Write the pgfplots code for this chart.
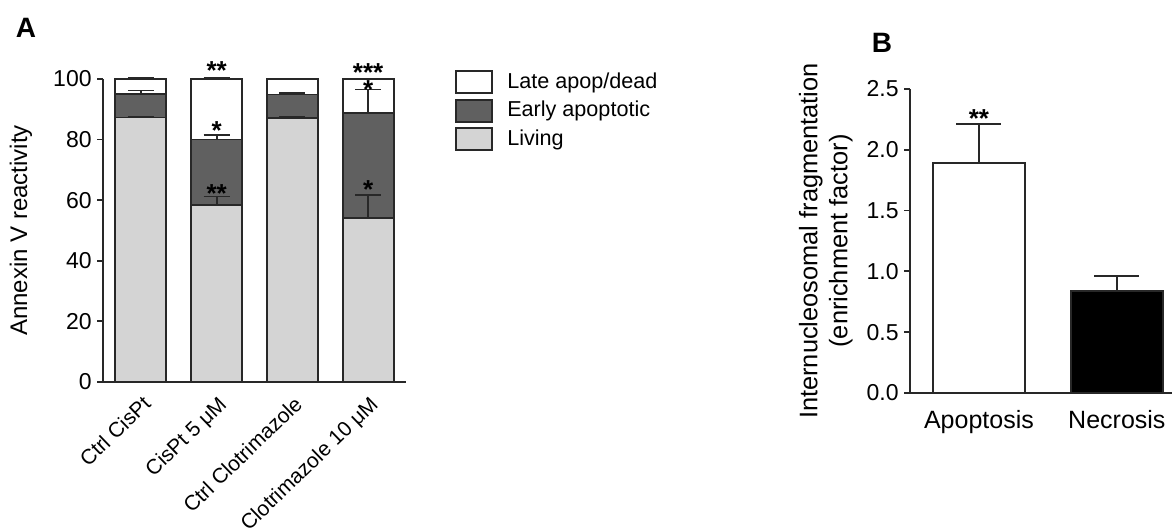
\documentclass[border=0pt]{standalone}
\usepackage{pgfplots}
\pgfplotsset{compat=1.18}
\usepackage{fontspec}
\setmainfont{Liberation Sans}
\definecolor{living}{RGB}{212,212,212}
\definecolor{early}{RGB}{96,96,96}
\definecolor{edge}{RGB}{40,40,40}
\tikzset{sigstar/.style={font=\fontsize{13}{15}\selectfont\bfseries, anchor=base, inner sep=0pt}}
\begin{document}
\begin{tikzpicture}
\path[use as bounding box] (0,0) rectangle (587pt,-264pt);
% Panel letters
\node[font=\fontsize{14}{16}\selectfont\bfseries] at (13pt,-13.75pt) {A};
\node[font=\fontsize{14}{16}\selectfont\bfseries] at (441pt,-21.5pt) {B};

% ---------------- Panel A ----------------
\begin{axis}[
  at={(51.5pt,-191pt)}, anchor=south west,
  scale only axis, width=151.5pt, height=151.5pt,
  ybar stacked, bar width=25.5pt,
  xmin=-0.5, xmax=3.5, ymin=0, ymax=100,
  axis lines*=left, axis line style={line width=0.9pt, edge, -},
  every tick/.style={line width=0.9pt, edge},
  xtick={0,1,2,3},
  xticklabels={Ctrl CisPt, CisPt 5 μM, Ctrl Clotrimazole, Clotrimazole 10 μM},
  x tick style={draw=none},
  xticklabel style={rotate=44, anchor=north east, inner sep=0pt, xshift=-2pt, yshift=-2.5pt, font=\fontsize{10.5}{12}\selectfont},
  ytick={0,20,40,60,80,100},
  tick align=outside, major tick length=3pt,
  /pgf/number format/assume math mode=true,
  yticklabel style={font=\fontsize{11.5}{13}\selectfont, inner sep=0pt, xshift=-2.5pt},
  ylabel={Annexin V reactivity},
  ylabel style={at={(axis description cs:-0.271,0.5)}, anchor=center, font=\fontsize{12}{14}\selectfont},
  reverse legend,
  legend style={at={(axis description cs:1.162,1.03)}, anchor=north west, draw=none, fill=none,
    font=\fontsize{10.8}{13}\selectfont, inner sep=0pt, row sep=2.3pt,
    nodes={inner sep=1pt}, /tikz/every odd column/.append style={column sep=6pt}},
  legend cell align=left,
  legend image code/.code={\draw[#1, line width=0.9pt] (0pt,-5.5pt) rectangle (18pt,5.5pt);},
]
\addplot[fill=living, draw=edge, line width=0.9pt] coordinates {(0,87.3) (1,58.5) (2,87.1) (3,54.2)};
\addlegendentry{Living}
\addplot[fill=early, draw=edge, line width=0.9pt] coordinates {(0,7.8) (1,21.5) (2,7.8) (3,34.5)};
\addlegendentry{Early apoptotic}
\addplot[fill=white, draw=edge, line width=0.9pt] coordinates {(0,4.9) (1,20.0) (2,5.1) (3,11.3)};
\addlegendentry{Late apop/dead}
\end{axis}

% overlay axis for error bars and significance marks
\begin{axis}[
  at={(51.5pt,-191pt)}, anchor=south west,
  scale only axis, width=151.5pt, height=151.5pt,
  xmin=-0.5, xmax=3.5, ymin=0, ymax=100,
  hide axis, clip=false,
]
\addplot[draw=none, mark=none, forget plot,
  error bars/.cd, y dir=plus, y explicit,
  error bar style={draw=edge, line width=0.9pt, solid},
  error mark options={draw=edge, rotate=90, mark size=6.5pt, line width=0.9pt}]
  coordinates {(0,87.3) +- (0,0.3) (1,58.5) +- (0,2.7) (2,87.1) +- (0,0.3) (3,54.2) +- (0,7.5)};
\addplot[draw=none, mark=none, forget plot,
  error bars/.cd, y dir=plus, y explicit,
  error bar style={draw=edge, line width=0.9pt, solid},
  error mark options={draw=edge, rotate=90, mark size=6.5pt, line width=0.9pt}]
  coordinates {(0,95.1) +- (0,1.1) (1,80.0) +- (0,1.5) (2,94.9) +- (0,0.5) (3,88.7) +- (0,7.8)};
\addplot[draw=none, mark=none, forget plot,
  error bars/.cd, y dir=plus, y explicit,
  error bar style={draw=edge, line width=0.9pt, solid},
  error mark options={draw=edge, rotate=90, mark size=6.5pt, line width=0.9pt}]
  coordinates {(0,100) +- (0,0.2) (1,100) +- (0,0.3)};
\node[sigstar] at (axis cs:1,99.7) {**};
\node[sigstar] at (axis cs:1,80.0) {*};
\node[sigstar] at (axis cs:1,59.2) {**};
\node[sigstar] at (axis cs:3,99.3) {***};
\node[sigstar] at (axis cs:3,93.4) {*};
\node[sigstar] at (axis cs:3,60.4) {*};
\end{axis}

% ---------------- Panel B ----------------
\begin{axis}[
  at={(455pt,-196.5pt)}, anchor=south west,
  scale only axis, width=131pt, height=152pt,
  ybar, bar width=46pt, bar shift=0pt,
  xmin=-0.5, xmax=1.4, ymin=0, ymax=2.5,
  axis lines*=left, axis line style={line width=0.9pt, edge, -},
  every tick/.style={line width=0.9pt, edge},
  xtick={0,1}, xticklabels={Apoptosis, Necrosis},
  x tick style={draw=none},
  xticklabel style={font=\fontsize{12.5}{14}\selectfont, yshift=-2pt},
  ytick={0,0.5,1,1.5,2,2.5},
  yticklabel style={font=\fontsize{11.5}{13}\selectfont, inner sep=0pt, xshift=-2.5pt,
    /pgf/number format/.cd, fixed, fixed zerofill, precision=1},
  tick align=outside, major tick length=3pt,
  /pgf/number format/assume math mode=true,
  ylabel={Internucleosomal fragmentation\\(enrichment factor)},
  ylabel style={at={(axis description cs:-0.321,0.5)}, anchor=center, align=center,
    font=\fontsize{12.7}{15}\selectfont},
  clip=false,
]
\addplot[fill=white, draw=edge, line width=0.9pt,
  error bars/.cd, y dir=plus, y explicit,
  error bar style={draw=edge, line width=0.9pt, solid},
  error mark options={draw=edge, rotate=90, mark size=11.25pt, line width=0.9pt}]
  coordinates {(0,1.89) +- (0,0.32)};
\addplot[fill=black, draw=edge, line width=0.9pt,
  error bars/.cd, y dir=plus, y explicit,
  error bar style={draw=edge, line width=0.9pt, solid},
  error mark options={draw=edge, rotate=90, mark size=11.25pt, line width=0.9pt}]
  coordinates {(1,0.84) +- (0,0.12)};
\node[sigstar] at (axis cs:0,2.18) {**};
\end{axis}
\end{tikzpicture}
\end{document}
